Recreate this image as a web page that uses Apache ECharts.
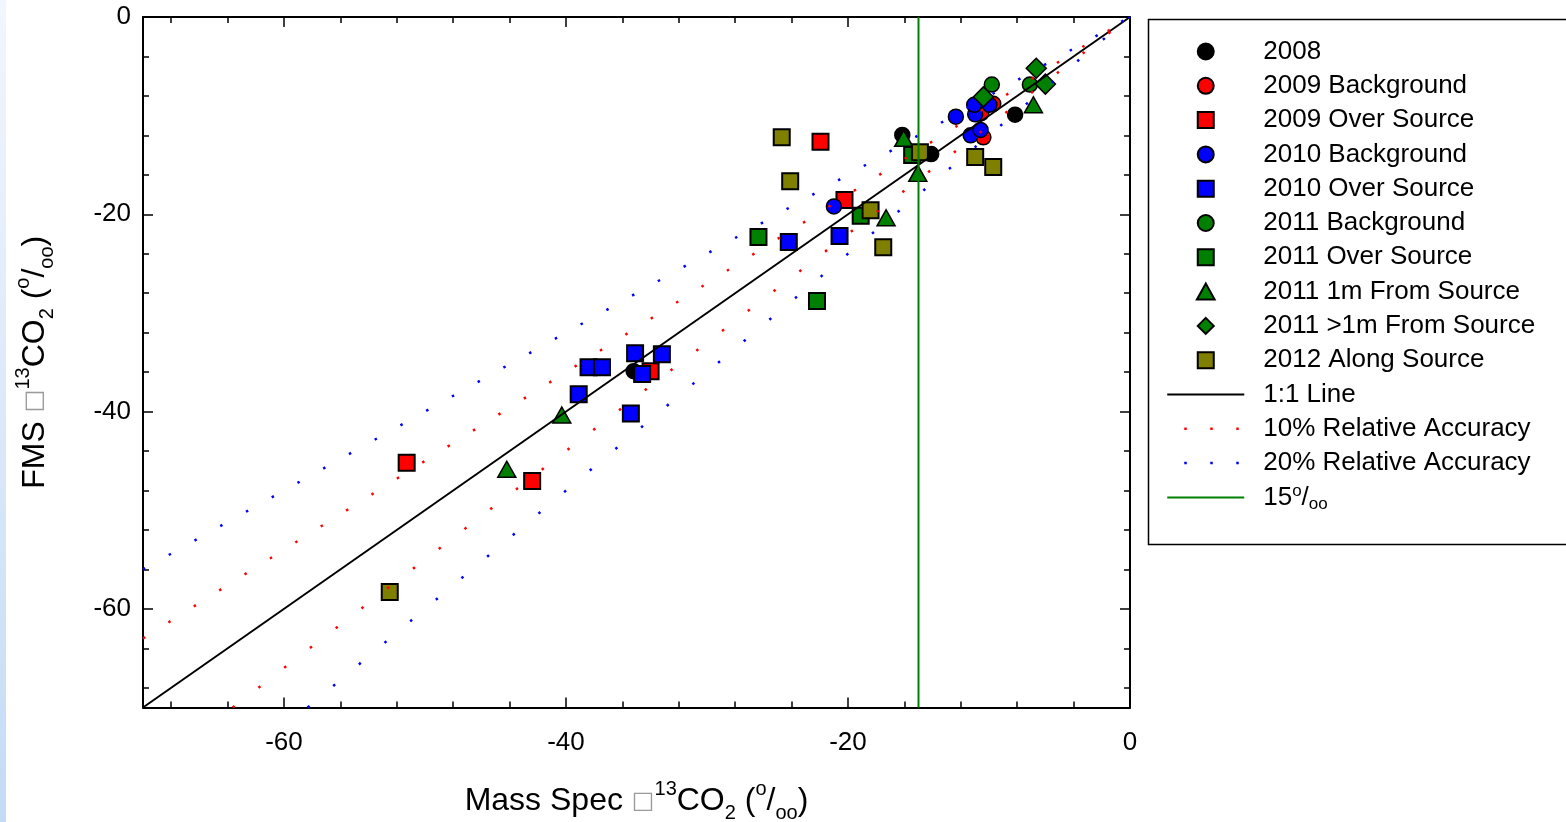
<!DOCTYPE html>
<html>
<head>
<meta charset="utf-8">
<script src="https://cdn.jsdelivr.net/npm/echarts@6/dist/echarts.min.js"></script>
<style>
  html, body { margin: 0; padding: 0; background: #ffffff; }
  #strip { position: absolute; left: 0; top: 0; width: 6px; height: 822px;
           background: linear-gradient(to bottom, #f2f6fd, #c4dbf6); }
  #chart { position: absolute; left: 0; top: 0; width: 1566px; height: 822px; }
</style>
</head>
<body>
<div id="strip"></div>
<div id="chart"></div>
<script>
// ---- tick values / labels ----
const majorTicks = [-60, -40, -20, 0];
const minorTicks = [-68, -64, -56, -52, -48, -44, -36, -32, -28, -24, -16, -12, -8, -4];

// ---- data: [Mass Spec, FMS] ----
const y2008        = [[-16.15, -11.95], [-14.1, -13.9], [-8.15, -9.9], [-35.2, -35.9]];
const bg2009       = [[-10.55, -9.75], [-10.4, -12.2], [-9.7, -8.8]];
const os2009       = [[-21.95, -12.65], [-20.25, -18.55], [-51.3, -45.2], [-42.4, -47.05], [-34.0, -35.9]];
const bg2010       = [[-21.0, -19.2], [-12.35, -10.1], [-10.98, -9.87], [-11.05, -8.9], [-9.97, -8.9], [-11.3, -12.0], [-10.6, -11.45]];
const os2010       = [[-24.2, -22.8], [-20.6, -22.2], [-39.1, -38.25], [-38.4, -35.5], [-37.45, -35.5], [-35.1, -34.1], [-33.2, -34.2], [-34.6, -36.2], [-35.4, -40.2]];
const bg2011       = [[-9.8, -6.85], [-7.1, -6.85]];
const os2011       = [[-26.35, -22.3], [-22.2, -28.8], [-19.1, -20.15], [-15.45, -14.0]];
const from1m2011   = [[-16.05, -12.3], [-15.05, -15.85], [-17.3, -20.35], [-6.85, -8.9], [-40.3, -40.35], [-44.2, -45.85]];
const beyond1m2011 = [[-6.65, -5.2], [-6.0, -6.8], [-10.4, -8.1]];
const along2012    = [[-24.7, -12.2], [-24.1, -16.65], [-18.4, -19.6], [-17.5, -23.35], [-14.9, -13.7], [-10.98, -14.2], [-9.7, -15.2], [-52.5, -58.3]];

// ---- reference lines ----
const oneToOne   = [[-70, -70], [0, 0]];
const acc10Upper = [[-70, -63], [0, 0]];
const acc10Lower = [[-63.64, -70], [0, 0]];
const acc20Upper = [[-70, -56], [0, 0]];
const acc20Lower = [[-58.33, -70], [0, 0]];
const line15     = [[-15, -70], [-15, 0]];

const FONT = "'Liberation Sans', Arial, Helvetica, sans-serif";
const titleRich = {
  base: { fontSize: 32, lineHeight: 44, fontFamily: FONT, color: '#000' },
  box:  { fontSize: 24, lineHeight: 44, fontFamily: 'DejaVu Sans', color: '#9a9a9a' },
  sup:  { fontSize: 20, lineHeight: 22, verticalAlign: 'top', fontFamily: FONT, color: '#000' },
  sub:  { fontSize: 20, lineHeight: 22, verticalAlign: 'bottom', fontFamily: FONT, color: '#000' }
};

function scatter(name, data, color, symbol, size, bw) {
  return {
    type: 'scatter', name: name, data: data, symbol: symbol, symbolSize: size,
    xAxisIndex: 0, yAxisIndex: 0, z: 2,
    itemStyle: { color: color, borderColor: '#000', borderWidth: bw, opacity: 1 },
    emphasis: { disabled: true }
  };
}
function line(name, data, color, width, type) {
  return {
    type: 'line', name: name, data: data, symbol: 'none', showSymbol: false,
    xAxisIndex: 0, yAxisIndex: 0, z: 5, silent: true,
    lineStyle: { color: color, width: width, type: type, cap: 'butt' },
    itemStyle: { color: color },
    emphasis: { disabled: true }
  };
}

function xAx(pos, ticks, len, showLine, showLabel) {
  return {
    type: 'value', min: -70, max: 0, position: pos,
    axisLine: { show: showLine, onZero: false, lineStyle: { color: '#000', width: 2 } },
    axisTick: { show: true, inside: true, length: len, customValues: ticks, lineStyle: { color: '#000', width: 1.5 } },
    axisLabel: { show: showLabel, customValues: ticks, fontSize: 26, fontFamily: FONT, color: '#000', margin: 22 },
    splitLine: { show: false }
  };
}
function yAx(pos, ticks, len, showLine, showLabel) {
  return {
    type: 'value', min: -70, max: 0, position: pos,
    axisLine: { show: showLine, onZero: false, lineStyle: { color: '#000', width: 2 } },
    axisTick: { show: true, inside: true, length: len, customValues: ticks, lineStyle: { color: '#000', width: 1.5 } },
    axisLabel: { show: showLabel, customValues: ticks, fontSize: 26, fontFamily: FONT, color: '#000', margin: 12 },
    splitLine: { show: false }
  };
}

const xMain = xAx('bottom', majorTicks, 10, true, true);
xMain.name = '{base|Mass Spec }{box|\u25A1}{sup|13}{base|CO}{sub|2}{base| (}{sup|o}{base|/}{sub|oo}{base|)}';
xMain.nameLocation = 'middle';
xMain.nameGap = 72;
xMain.nameTextStyle = { rich: titleRich };

const yMain = yAx('left', majorTicks, 10, true, true);
yMain.name = '{base|FMS }{box|\u25A1}{sup|13}{base|CO}{sub|2}{base| (}{sup|o}{base|/}{sub|oo}{base|)}';
yMain.nameLocation = 'middle';
yMain.nameRotate = 90;
yMain.nameGap = 86;
yMain.nameTextStyle = { rich: titleRich };

// legend icons (keep square aspect inside the wide legend icon box)
const ICON_SQUARE   = 'path://M0,0L10,0L10,10L0,10Z';
const ICON_TRIANGLE = 'path://M5,0L10,9L0,9Z';
const ICON_DIAMOND  = 'path://M5,0L10,5L5,10L0,5Z';
const noMarker = { color: 'rgba(0,0,0,0)', borderWidth: 0, opacity: 0 };

const legendData = [
  { name: '2008', icon: 'circle' },
  { name: '2009 Background', icon: 'circle' },
  { name: '2009 Over Source', icon: ICON_SQUARE },
  { name: '2010 Background', icon: 'circle' },
  { name: '2010 Over Source', icon: ICON_SQUARE },
  { name: '2011 Background', icon: 'circle' },
  { name: '2011 Over Source', icon: ICON_SQUARE },
  { name: '2011 1m From Source', icon: ICON_TRIANGLE },
  { name: '2011 >1m From Source', icon: ICON_DIAMOND },
  { name: '2012 Along Source', icon: ICON_SQUARE },
  { name: '1:1 Line', itemStyle: noMarker },
  { name: '10% Relative Accuracy', itemStyle: noMarker,
    lineStyle: { color: '#ff0000', width: 2.5, type: [2.5, 23.5], dashOffset: 9 } },
  { name: '20% Relative Accuracy', itemStyle: noMarker,
    lineStyle: { color: '#0000ff', width: 2.5, type: [2.5, 23.5], dashOffset: 9 } },
  { name: '15o/oo', itemStyle: noMarker }
];

const option = {
  backgroundColor: 'transparent',
  animation: false,
  grid: { left: 143, top: 17, width: 987, height: 690.5, containLabel: false, outerBoundsMode: 'none' },
  xAxis: [
    xMain,
    xAx('bottom', minorTicks, 6, false, false),
    xAx('top', majorTicks, 10, true, false),
    xAx('top', minorTicks, 6, false, false)
  ],
  yAxis: [
    yMain,
    yAx('left', minorTicks, 6, false, false),
    yAx('right', majorTicks, 10, true, false),
    yAx('right', minorTicks, 6, false, false)
  ],
  legend: {
    orient: 'vertical', left: 1166, top: 36.5, padding: 0,
    itemWidth: 77, itemHeight: 16, itemGap: 4.3,
    selectedMode: false,
    symbolKeepAspect: true,
    data: legendData,
    textStyle: {
      fontSize: 26, lineHeight: 30, fontFamily: FONT, color: '#000', padding: [0, 0, 0, 14],
      rich: {
        sup: { fontSize: 17, lineHeight: 17, verticalAlign: 'top', fontFamily: FONT, color: '#000' },
        sub: { fontSize: 17, lineHeight: 17, verticalAlign: 'bottom', fontFamily: FONT, color: '#000' }
      }
    },
    formatter: function (n) { return n === '15o/oo' ? '15{sup|o}/{sub|oo}' : n; }
  },
  graphic: [{
    type: 'rect', left: 1146, top: 17, silent: true, z: 0,
    shape: { width: 419, height: 525 },
    style: { fill: 'none', stroke: '#000', lineWidth: 1.5 }
  }],
  series: [
    scatter('2008', y2008, '#000000', 'circle', 15, 1.5),
    scatter('2009 Background', bg2009, '#ff0000', 'circle', 15, 1.5),
    scatter('2009 Over Source', os2009, '#ff0000', 'rect', 16, 2),
    scatter('2010 Background', bg2010, '#0000ff', 'circle', 15, 1.5),
    scatter('2010 Over Source', os2010, '#0000ff', 'rect', 16, 2),
    scatter('2011 Background', bg2011, '#008000', 'circle', 15, 1.5),
    scatter('2011 Over Source', os2011, '#008000', 'rect', 16, 2),
    scatter('2011 1m From Source', from1m2011, '#008000', 'triangle', [18, 16], 1.5),
    scatter('2011 >1m From Source', beyond1m2011, '#008000', 'diamond', [20, 20], 1.5),
    scatter('2012 Along Source', along2012, '#808000', 'rect', 16, 2),
    line('1:1 Line', oneToOne, '#000000', 2, 'solid'),
    line('10% Relative Accuracy', acc10Upper, '#ff0000', 2.5, [2.5, 27.5]),
    line('10% Relative Accuracy', acc10Lower, '#ff0000', 2.5, [2.5, 30]),
    line('20% Relative Accuracy', acc20Upper, '#0000ff', 2.5, [2.5, 27]),
    line('20% Relative Accuracy', acc20Lower, '#0000ff', 2.5, [2.5, 31]),
    line('15o/oo', line15, '#008000', 2, 'solid')
  ]
};

const chart = echarts.init(document.getElementById('chart'), null, { renderer: 'canvas', width: 1566, height: 822 });
chart.setOption(option);
</script>
</body>
</html>
